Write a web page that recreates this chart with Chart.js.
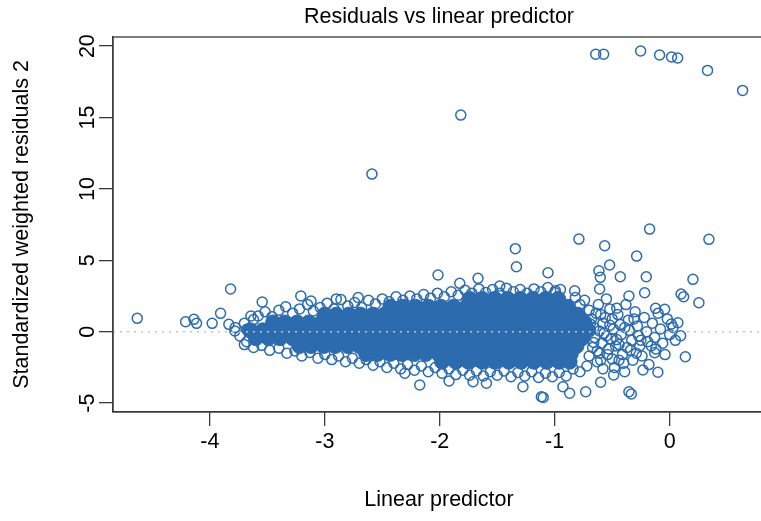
<!DOCTYPE html>
<html>
<head>
<meta charset="utf-8">
<script src="https://cdn.jsdelivr.net/npm/chart.js@4.4.0/dist/chart.umd.min.js"></script>
<style>
html,body{margin:0;padding:0;overflow:hidden;background:#fff}
#wrap{width:775px;height:521px}
</style>
</head>
<body>
<div id="wrap"><canvas id="resid" width="775" height="521"></canvas></div>
<script>
// axis setup
var xTicks = [-4, -3, -2, -1, 0];
var yTicks = [-5, 0, 5, 10, 15, 20];
var xRange = [-4.843, 0.83];
var yRange = [-5.62, 20.64];

// dense middle of the cloud (solid blue in the picture), rows of [x, y]
var coreCloud = [
  [-1.74,2.3],[-1.63,2.3],[-1.52,2.3],[-1.41,2.3],[-1.3,2.3],[-1.19,2.3],[-1.08,2.3],[-0.97,2.3],
  [-2.43,1.75],[-2.32,1.75],[-2.21,1.75],[-2.1,1.75],[-1.99,1.75],[-1.88,1.75],[-1.77,1.75],[-1.66,1.75],
  [-1.55,1.75],[-1.44,1.75],[-1.33,1.75],[-1.22,1.75],[-1.11,1.75],[-1.0,1.75],[-0.89,1.75],
  [-3.0,1.2],[-2.9,1.2],[-2.79,1.2],[-2.69,1.2],[-2.58,1.2],[-2.48,1.2],[-2.37,1.2],[-2.27,1.2],
  [-2.16,1.2],[-2.06,1.2],[-1.95,1.2],[-1.85,1.2],[-1.74,1.2],[-1.64,1.2],[-1.53,1.2],[-1.43,1.2],
  [-1.32,1.2],[-1.22,1.2],[-1.11,1.2],[-1.01,1.2],[-0.9,1.2],[-0.8,1.2],
  [-3.45,0.65],[-3.35,0.65],[-3.24,0.65],[-3.14,0.65],[-3.03,0.65],[-2.93,0.65],[-2.82,0.65],
  [-2.72,0.65],[-2.61,0.65],[-2.51,0.65],[-2.4,0.65],[-2.3,0.65],[-2.19,0.65],[-2.09,0.65],
  [-1.98,0.65],[-1.88,0.65],[-1.77,0.65],[-1.67,0.65],[-1.56,0.65],[-1.46,0.65],[-1.35,0.65],
  [-1.25,0.65],[-1.14,0.65],[-1.04,0.65],[-0.93,0.65],[-0.83,0.65],[-0.74,0.65],
  [-3.65,0.1],[-3.54,0.1],[-3.44,0.1],[-3.33,0.1],[-3.23,0.1],[-3.12,0.1],[-3.02,0.1],[-2.91,0.1],
  [-2.81,0.1],[-2.7,0.1],[-2.6,0.1],[-2.49,0.1],[-2.39,0.1],[-2.28,0.1],[-2.18,0.1],[-2.07,0.1],
  [-1.97,0.1],[-1.86,0.1],[-1.76,0.1],[-1.65,0.1],[-1.55,0.1],[-1.44,0.1],[-1.34,0.1],[-1.23,0.1],
  [-1.13,0.1],[-1.02,0.1],[-0.92,0.1],[-0.81,0.1],[-0.71,0.1],
  [-3.6,-0.45],[-3.49,-0.45],[-3.39,-0.45],[-3.28,-0.45],[-3.18,-0.45],[-3.07,-0.45],[-2.97,-0.45],
  [-2.86,-0.45],[-2.76,-0.45],[-2.65,-0.45],[-2.55,-0.45],[-2.44,-0.45],[-2.34,-0.45],[-2.23,-0.45],
  [-2.13,-0.45],[-2.02,-0.45],[-1.92,-0.45],[-1.81,-0.45],[-1.71,-0.45],[-1.6,-0.45],[-1.5,-0.45],
  [-1.39,-0.45],[-1.29,-0.45],[-1.18,-0.45],[-1.08,-0.45],[-0.97,-0.45],[-0.87,-0.45],[-0.76,-0.45],
  [-3.22,-1.0],[-3.12,-1.0],[-3.01,-1.0],[-2.91,-1.0],[-2.8,-1.0],[-2.7,-1.0],[-2.59,-1.0],[-2.49,-1.0],
  [-2.38,-1.0],[-2.28,-1.0],[-2.17,-1.0],[-2.07,-1.0],[-1.96,-1.0],[-1.86,-1.0],[-1.75,-1.0],[-1.65,-1.0],
  [-1.54,-1.0],[-1.44,-1.0],[-1.33,-1.0],[-1.23,-1.0],[-1.12,-1.0],[-1.02,-1.0],[-0.91,-1.0],[-0.81,-1.0],
  [-2.64,-1.55],[-2.54,-1.55],[-2.43,-1.55],[-2.33,-1.55],[-2.22,-1.55],[-2.12,-1.55],[-2.01,-1.55],
  [-1.91,-1.55],[-1.8,-1.55],[-1.7,-1.55],[-1.59,-1.55],[-1.49,-1.55],[-1.38,-1.55],[-1.28,-1.55],
  [-1.17,-1.55],[-1.07,-1.55],[-0.96,-1.55],[-0.86,-1.55],
  [-1.98,-2.1],[-1.86,-2.1],[-1.75,-2.1],[-1.63,-2.1],[-1.52,-2.1],[-1.4,-2.1],[-1.29,-2.1],
  [-1.18,-2.1],[-1.07,-2.1],[-0.96,-2.1],[-0.87,-2.1]
];

// ragged top and bottom edge of the cloud
var edgeCloud = [
  [-3.78,0.3],[-3.74,-0.3],[-3.7,0.6],[-3.68,-0.7],[-3.62,0.85],[-3.58,1.1],[-3.52,1.4],[-3.46,1.05],
  [-3.4,1.5],[-3.34,1.75],[-3.28,1.3],[-3.22,1.6],[-3.15,1.9],[-3.1,1.45],[-3.04,1.7],[-2.98,2.0],
  [-2.92,1.6],[-2.86,2.25],[-2.8,1.8],[-2.74,2.05],[-2.68,1.7],[-2.62,2.2],[-2.56,1.95],[-2.5,2.3],
  [-2.44,2.1],[-2.38,2.45],[-2.32,2.2],[-2.26,2.5],[-2.2,2.3],[-2.14,2.6],[-2.08,2.35],[-2.02,2.7],
  [-1.96,2.45],[-1.9,2.8],[-1.84,2.55],[-1.78,2.9],[-1.72,2.7],[-1.66,3.0],[-1.6,2.75],[-1.54,2.95],
  [-1.48,2.7],[-1.42,3.05],[-1.36,2.8],[-1.3,2.95],[-1.24,2.7],[-1.18,3.0],[-1.12,2.8],[-1.06,3.1],
  [-1.0,2.75],[-0.95,2.95],[-3.12,2.15],[-2.71,2.4],[-2.9,2.3],
  [-3.7,-0.9],[-3.62,-1.1],[-3.55,-0.95],[-3.48,-1.3],[-3.4,-1.15],[-3.33,-1.5],[-3.26,-1.35],
  [-3.2,-1.7],[-3.13,-1.45],[-3.06,-1.85],[-3.0,-1.6],[-2.94,-1.95],[-2.88,-1.7],[-2.82,-2.1],
  [-2.76,-1.85],[-2.7,-2.2],[-2.64,-1.95],[-2.58,-2.35],[-2.52,-2.1],[-2.46,-2.5],[-2.4,-2.2],
  [-2.34,-2.6],[-2.28,-2.3],[-2.22,-2.7],[-2.16,-2.4],[-2.1,-2.8],[-2.04,-2.5],[-1.98,-2.9],
  [-1.92,-2.6],[-1.86,-3.0],[-1.8,-2.7],[-1.74,-3.05],[-1.68,-2.75],[-1.62,-3.1],[-1.56,-2.8],
  [-1.5,-3.05],[-1.44,-2.75],[-1.38,-3.15],[-1.32,-2.85],[-1.26,-3.1],[-1.2,-2.8],[-1.14,-3.2],
  [-1.08,-2.9],[-1.02,-3.15],[-0.96,-2.85],[-0.9,-3.1]
];

// thinner right-hand end of the cloud
var fringeCloud = [
  [-0.82,2.4],[-0.78,1.9],[-0.74,2.2],[-0.7,1.5],[-0.68,0.9],[-0.66,0.3],[-0.65,-0.4],[-0.67,-1.1],
  [-0.7,-1.7],[-0.72,-2.4],[-0.78,-2.8],[-0.84,-2.6],[-0.62,1.9],[-0.6,1.2],[-0.58,0.6],[-0.57,-0.1],
  [-0.59,-0.8],[-0.61,-1.5],[-0.63,-2.1],[-0.58,-2.6],[-0.55,2.3],[-0.52,1.6],[-0.5,0.9],[-0.49,0.2],
  [-0.51,-0.5],[-0.53,-1.2],[-0.5,-1.9],[-0.48,-2.5],[-0.45,1.2],[-0.43,0.5],[-0.42,-0.2],[-0.44,-0.9],
  [-0.41,-1.6],[-0.4,-2.2],[-0.38,1.9],[-0.36,0.8],[-0.35,0.1],[-0.33,-0.6],[-0.34,-1.3],[-0.32,-2.0],
  [-0.3,1.4],[-0.28,0.4],[-0.27,-0.3],[-0.26,-1.0],[-0.24,-1.7],[-0.22,1.0],[-0.2,0.0],[-0.19,-0.7],
  [-0.18,-2.3],[-0.15,0.6],[-0.13,-0.4],[-0.12,-1.2],[-0.1,1.3],[-0.08,0.2],[-0.06,-0.8],[-0.04,-1.6],
  [-0.02,0.9],[0.0,-0.2],[0.03,0.3],[0.05,-0.6],
  [0.072,0.63],[0.015,0.54],[0.096,-0.28],[0.137,-1.75],[-0.102,-2.84],[-0.13,-1.47],[-0.043,1.57],
  [-0.122,1.64],[-0.354,2.5],[-0.232,-2.68],[-0.487,-3.03],[-0.391,-2.8],
  [-0.69,0.55],[-0.66,-0.75],[-0.64,1.3],[-0.63,-1.35],[-0.61,0.05],[-0.6,-2.0],[-0.56,1.0],
  [-0.55,-0.3],[-0.54,-1.6],[-0.52,0.45],[-0.47,-1.0],[-0.46,1.65],[-0.46,-0.55],[-0.44,-2.0],
  [-0.39,0.3],[-0.37,-1.1],[-0.31,0.9],[-0.29,-1.5],[-0.25,-0.6],[-0.16,-1.0]
];

// stray points away from the cloud
var outliers = [
  [-0.643,19.43],[-0.574,19.43],[-0.252,19.66],[-0.087,19.38],[0.017,19.24],[0.07,19.17],
  [0.33,18.3],[0.635,16.9],[-1.817,15.17],[-2.59,11.04],
  [-0.789,6.49],[-0.174,7.19],[0.342,6.47],[-0.565,6.02],[-0.287,5.3],[-1.058,4.13],[-0.522,4.67],
  [-0.615,4.27],[-0.603,3.81],[-0.429,3.85],[-0.203,3.85],[0.203,3.67],[-0.609,2.99],[-0.217,2.73],
  [0.1,2.64],[0.122,2.45],[0.255,2.03],[-0.994,2.87],[-0.826,2.87],[-1.342,5.82],[-1.333,4.55],
  [-2.015,3.97],[-1.667,3.74],[-1.826,3.39],[-1.478,3.2],[-3.209,2.5],[-3.545,2.08],[-3.82,2.99],
  [-4.632,0.94],[-4.211,0.7],[-4.139,0.87],[-4.116,0.59],[-3.98,0.59],[-3.907,1.29],[-3.835,0.52],
  [-3.783,0.05],[-3.643,1.1],[-3.68,0.17],
  [-2.304,-2.91],[-2.174,-3.73],[-1.919,-3.45],[-1.71,-3.5],[-1.594,-3.61],[-1.276,-3.85],
  [-1.116,-4.55],[-1.1,-4.6],[-0.928,-3.85],[-0.87,-4.31],[-0.73,-4.2],[-0.6,-3.54],
  [-0.354,-4.2],[-0.333,-4.36]
];

var blue = "#2b6bae";
var font = "'Liberation Sans', Arial, Helvetica, sans-serif";

function pts(list){
  return list.map(function(p){ return {x: p[0], y: p[1]}; });
}

function hollow(list){
  return {
    data: pts(list), order: 1,
    pointRadius: 5, pointBorderWidth: 1.5,
    pointBorderColor: blue, pointBackgroundColor: "rgba(0,0,0,0)"
  };
}

// box round the plot and the R-style text
var frame = {
  id: "frame",
  afterDraw: function(chart){
    var ctx = chart.ctx, a = chart.chartArea, ys = chart.scales.y;
    ctx.save();
    ctx.strokeStyle = "#3a3a3a";
    ctx.lineWidth = 1.3;
    ctx.strokeRect(a.left, a.top, a.right - a.left, a.bottom - a.top);

    ctx.fillStyle = "#000";
    ctx.textAlign = "center";
    ctx.textBaseline = "middle";
    ctx.font = "21.5px " + font;
    ctx.fillText("Residuals vs linear predictor", 439, 17);
    ctx.fillText("Linear predictor", 439, 500);

    yTicks.forEach(function(v){
      ctx.save();
      ctx.translate(88, ys.getPixelForValue(v));
      ctx.rotate(-Math.PI / 2);
      ctx.fillText(String(v), 0, 0);
      ctx.restore();
    });

    ctx.translate(22, (a.top + a.bottom) / 2);
    ctx.rotate(-Math.PI / 2);
    ctx.fillText("Standardized weighted residuals 2", 0, 0);
    ctx.restore();
  }
};

var axisGrid = {drawOnChartArea: false, drawTicks: true, tickLength: 14, color: "#3a3a3a", lineWidth: 1.3};

var config = {
  type: "scatter",
  data: {
    datasets: [
      {
        type: "line", order: 0,
        data: [{x: xRange[0], y: 0}, {x: xRange[1], y: 0}],
        borderColor: "#c4c4c4", borderWidth: 1.6, borderDash: [2, 5],
        pointRadius: 0
      },
      {
        data: pts(coreCloud), order: 1,
        pointRadius: 7.5, pointBorderWidth: 1,
        pointBorderColor: blue, pointBackgroundColor: blue
      },
      hollow(edgeCloud),
      hollow(fringeCloud),
      hollow(outliers)
    ]
  },
  options: {
    responsive: false,
    animation: false,
    devicePixelRatio: 1,
    events: [],
    layout: {padding: {top: 37, right: 10, left: 0, bottom: 0}},
    plugins: {legend: {display: false}, tooltip: {enabled: false}},
    scales: {
      x: {
        type: "linear", min: xRange[0], max: xRange[1],
        afterBuildTicks: function(s){ s.ticks = xTicks.map(function(v){ return {value: v}; }); },
        afterFit: function(s){ s.height = 109; },
        grid: axisGrid,
        border: {display: true, color: "#3a3a3a", width: 1.3},
        ticks: {
          color: "#000", padding: 3, maxRotation: 0, autoSkip: false,
          font: {family: font, size: 21.5},
          callback: function(v){ return String(v); }
        }
      },
      y: {
        type: "linear", min: yRange[0], max: yRange[1],
        afterBuildTicks: function(s){ s.ticks = yTicks.map(function(v){ return {value: v}; }); },
        afterFit: function(s){ s.width = 113; },
        grid: axisGrid,
        border: {display: true, color: "#3a3a3a", width: 1.3},
        ticks: {display: false}
      }
    }
  },
  plugins: [frame]
};

window.onload = function(){
  window.residChart = new Chart(document.getElementById("resid").getContext("2d"), config);
};
</script>
</body>
</html>
